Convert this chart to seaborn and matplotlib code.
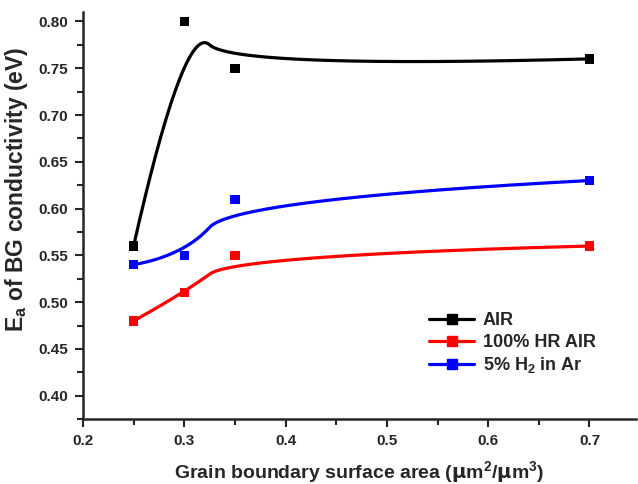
import numpy as np
import pandas as pd
import matplotlib
matplotlib.use('Agg')
import matplotlib.pyplot as plt
from matplotlib.lines import Line2D
from matplotlib.ticker import MultipleLocator
import seaborn as sns

# data
gb_area = [0.25, 0.30, 0.35, 0.70]
ea_air = [0.56, 0.80, 0.75, 0.76]
ea_hr_air = [0.48, 0.51, 0.55, 0.56]
ea_h2_ar = [0.54, 0.55, 0.61, 0.63]

series_names = ['AIR', '100% HR AIR', '5% H$_2$ in Ar']
series_colors = ['black', 'red', 'blue']


def basis(i, k, t, knots):
    # Cox-de Boor recursion
    if k == 0:
        out = ((knots[i] <= t) & (t < knots[i + 1])).astype(float)
        if knots[i + 1] == knots[-1] and knots[i] < knots[i + 1]:
            out[t == knots[-1]] = 1.0
        return out
    out = np.zeros_like(t)
    d1 = knots[i + k] - knots[i]
    d2 = knots[i + k + 1] - knots[i + 1]
    if d1 > 0:
        out += (t - knots[i]) / d1 * basis(i, k - 1, t, knots)
    if d2 > 0:
        out += (knots[i + k + 1] - t) / d2 * basis(i + 1, k - 1, t, knots)
    return out


def bspline_curve(x, y, degree=2, num=400):
    # clamped B-spline with the data points as control points (Origin style "B-Spline" line)
    n = len(x)
    inner = np.linspace(0, 1, n - degree + 1)[1:-1]
    knots = np.concatenate([[0] * (degree + 1), inner, [1] * (degree + 1)])
    t = np.linspace(0, 1, num)
    B = np.array([basis(i, degree, t, knots) for i in range(n)]).T
    return B @ np.asarray(x), B @ np.asarray(y)


sns.set_style('ticks')
plt.rcParams['font.family'] = ['Liberation Sans', 'DejaVu Sans']
plt.rcParams['font.weight'] = 'bold'
plt.rcParams['mathtext.default'] = 'regular'

fig = plt.figure(figsize=(6.38, 4.84), dpi=100)
ax = fig.add_axes([0.130, 0.134, 0.867, 0.841])

points = pd.DataFrame({
    'x': gb_area * 3,
    'y': ea_air + ea_hr_air + ea_h2_ar,
    'series': [s for s in series_names for _ in gb_area],
})

curves = []
for name, ys in zip(series_names, [ea_air, ea_hr_air, ea_h2_ar]):
    cx, cy = bspline_curve(gb_area, ys)
    curves.append(pd.DataFrame({'x': cx, 'y': cy, 'series': name}))
curves = pd.concat(curves, ignore_index=True)

palette = dict(zip(series_names, series_colors))
sns.lineplot(data=curves, x='x', y='y', hue='series', palette=palette,
             linewidth=2.3, legend=False, ax=ax, sort=False, estimator=None)
sns.scatterplot(data=points, x='x', y='y', hue='series', palette=palette,
                marker='s', s=45, linewidth=0, legend=False, ax=ax, zorder=3)

ax.set_xlim(0.2, 0.746)
ax.set_ylim(0.375, 0.81)
ax.xaxis.set_major_locator(MultipleLocator(0.1))
ax.xaxis.set_minor_locator(MultipleLocator(0.05))
ax.yaxis.set_major_locator(MultipleLocator(0.05))
ax.yaxis.set_minor_locator(MultipleLocator(0.025))
ax.xaxis.set_major_formatter(plt.FuncFormatter(lambda v, p: f'{v:.1f}'))
ax.yaxis.set_major_formatter(plt.FuncFormatter(lambda v, p: f'{v:.2f}'))
ax.tick_params(which='major', length=6, width=1.5, labelsize=11, direction='out', pad=5)
ax.tick_params(which='minor', length=4, width=1.5, direction='out')
for lab in ax.get_xticklabels() + ax.get_yticklabels():
    lab.set_fontweight('bold')
for side in ['left', 'bottom']:
    ax.spines[side].set_linewidth(1.8)
sns.despine(ax=ax)

ax.set_xlabel('Grain boundary surface area ($\\mathbf{\\mu}$m$^2$/$\\mathbf{\\mu}$m$^3$)',
              fontsize=14, fontweight='bold', labelpad=8)
ax.set_ylabel('E$_a$ of BG conductivity (eV)', fontsize=16.5, fontweight='bold')
ax.yaxis.set_label_coords(-0.096, 0.565)

handles = [Line2D([], [], color=c, lw=2.3, marker='s', markersize=6.5) for c in series_colors]
ax.legend(handles, series_names, loc='upper left', bbox_to_anchor=(0.597, 0.302),
          frameon=False, handlelength=2.45, handletextpad=0.5, labelspacing=0.25,
          prop={'weight': 'bold', 'size': 13})

fig.savefig('out.png', dpi=100)
